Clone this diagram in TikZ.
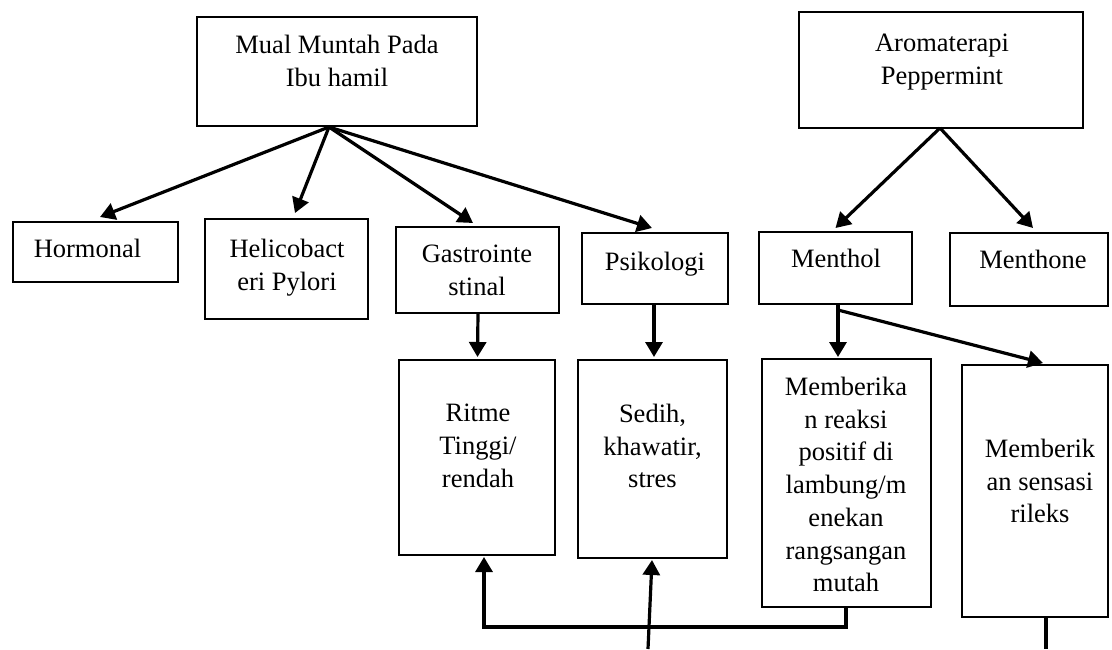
\documentclass[tikz,border=0pt]{standalone}
\usepackage{fontspec}
\setmainfont{Liberation Serif}
\usetikzlibrary{arrows.meta}
\begin{document}
\begin{tikzpicture}[x=1pt,y=-1pt,
  box/.style={draw=black, line width=1.9pt, inner sep=0pt, outer sep=0pt, fill=white},
  txt/.style={inner sep=0pt, align=center, font=\fontsize{26.5}{32.7}\selectfont},
  arr/.style={line width=3.2pt, -{Triangle[length=15pt,width=17pt]}},
  ln/.style={line width=3.2pt}]
\useasboundingbox (0,0) rectangle (1112,649);
\fill[white] (0,0) rectangle (1112,649);
% boxes
\node[box, minimum width=280pt, minimum height=109pt] (mual) at (337,71.5) {};
\node[box, minimum width=284pt, minimum height=116pt] (aroma) at (941,70) {};
\node[box, minimum width=165pt, minimum height=60pt] (horm) at (95.5,252) {};
\node[box, minimum width=163pt, minimum height=100pt] (heli) at (286.5,269) {};
\node[box, minimum width=163pt, minimum height=86pt] (gastro) at (477.5,270) {};
\node[box, minimum width=146pt, minimum height=71pt] (psi) at (655,268.5) {};
\node[box, minimum width=153pt, minimum height=72pt] (menthol) at (835.5,268) {};
\node[box, minimum width=158pt, minimum height=73pt] (menthone) at (1029,269.5) {};
\node[box, minimum width=156pt, minimum height=195pt] (ritme) at (477,457.5) {};
\node[box, minimum width=149pt, minimum height=198pt] (sedih) at (652.5,459) {};
\node[box, minimum width=169pt, minimum height=248pt] (memberika) at (846.5,483) {};
\node[box, minimum width=146pt, minimum height=252pt] (memberik) at (1035,491) {};
% texts
\node[txt, anchor=north] (mualT) at (337,35) {Mual Muntah Pada\\Ibu hamil};
\node[txt, anchor=north] (aromaT) at (942,34) {Aromaterapi\\Peppermint};
\node[txt, anchor=north] (hormT) at (87.5,239) {Hormonal};
\node[txt, anchor=north] (heliT) at (287,239) {Helicobact\\eri Pylori};
\node[txt, anchor=north] (gastroT) at (477,245) {Gastrointe\\stinal};
\node[txt, anchor=north] (psiT) at (655,252) {Psikologi};
\node[txt, anchor=north] (mentholT) at (836,249) {Menthol};
\node[txt, anchor=north] (menthoneT) at (1033,250) {Menthone};
\node[txt, anchor=north] (ritmeT) at (478,404) {Ritme\\Tinggi/\\rendah};
\node[txt, anchor=north] (sedihT) at (652.5,404) {Sedih,\\khawatir,\\stres};
\node[txt, anchor=north] (memberikaT) at (846,377) {Memberika\\n reaksi\\positif di\\lambung/m\\enekan\\rangsangan\\mutah};
\node[txt, anchor=north] (memberikT) at (1040,439) {Memberik\\an sensasi\\rileks};
% connector points
\coordinate (mualS) at (329,127);
\coordinate (aromaS) at (940,128);
\coordinate (mentholB) at (838,310);
\coordinate (sedihFree) at (648,649);
% arrows
\draw[arr] (mualS) -- ([xshift=4.5pt,yshift=5pt]horm.north);
\draw[arr] (mualS) -- ([xshift=8.5pt,yshift=6pt]heli.north);
\draw[arr] (mualS) -- ([xshift=-4.5pt,yshift=4pt]gastro.north);
\draw[arr] (mualS) -- ([xshift=-3pt,yshift=5pt]psi.north);
\draw[arr] (aromaS) -- ([yshift=4pt]menthol.north);
\draw[arr] (aromaS) -- ([xshift=4pt,yshift=5pt]menthone.north);
\draw[arr] ([xshift=0.5pt]gastro.south) -- ([xshift=0.5pt,yshift=3pt]ritme.north);
\draw[arr] ([xshift=-1pt]psi.south) -- ([xshift=1.5pt,yshift=3pt]sedih.north);
\draw[arr] ([xshift=2.5pt]menthol.south) -- ([xshift=-8.5pt,yshift=2pt]memberika.north);
\draw[arr] (mentholB) -- ([xshift=8pt,yshift=2pt]memberik.north);
\draw[arr] ([xshift=-0.5pt]memberika.south) -- ++(0,20) -| ([xshift=7pt,yshift=-2pt]ritme.south);
\draw[arr] (sedihFree) -- ([xshift=-0.5pt,yshift=-2pt]sedih.south);
\draw[ln] ([xshift=11pt]memberik.south) -- ++(0,32);
\end{tikzpicture}
\end{document}
